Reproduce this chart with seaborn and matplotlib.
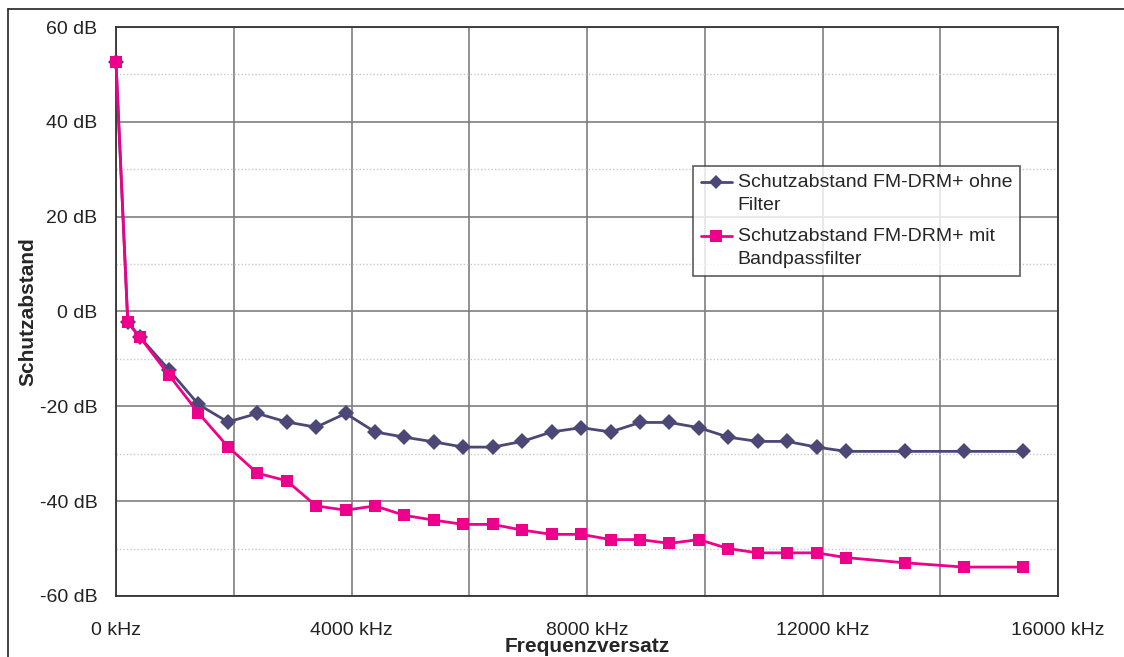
import numpy as np
import pandas as pd
import matplotlib
matplotlib.use("Agg")
import matplotlib.pyplot as plt
from matplotlib.ticker import MultipleLocator, FuncFormatter
from matplotlib.lines import Line2D
from matplotlib.legend_handler import HandlerLine2D
import seaborn as sns

# --------------------------
# DATA
# --------------------------
freq_khz = [0, 200, 400, 900, 1400, 1900, 2400, 2900, 3400, 3900,
            4400, 4900, 5400, 5900, 6400, 6900, 7400, 7900, 8400, 8900,
            9400, 9900, 10400, 10900, 11400, 11900, 12400, 13400, 14400, 15400]
ohne_filter = [52.6, -2.3, -5.3, -12.3, -19.6, -23.3, -21.5, -23.3, -24.4, -21.5,
               -25.4, -26.5, -27.5, -28.6, -28.6, -27.4, -25.4, -24.5, -25.4, -23.4,
               -23.4, -24.5, -26.5, -27.4, -27.4, -28.6, -29.5, -29.5, -29.5, -29.5]
mit_bandpass = [52.6, -2.3, -5.3, -13.4, -21.4, -28.5, -34.1, -35.7, -41.0, -41.9,
                -41.0, -43.0, -44.0, -44.9, -44.9, -46.1, -47.0, -47.0, -48.1, -48.1,
                -48.9, -48.1, -50.0, -50.9, -50.9, -50.9, -51.9, -53.0, -53.9, -53.9]
series_names = ["Schutzabstand FM-DRM+ ohne\nFilter",
                "Schutzabstand FM-DRM+ mit\nBandpassfilter"]

df = pd.concat([
    pd.DataFrame({"freq": freq_khz, "value": ohne_filter, "series": series_names[0]}),
    pd.DataFrame({"freq": freq_khz, "value": mit_bandpass, "series": series_names[1]}),
])

# --------------------------
# STYLE
# --------------------------
sns.set_style("white")
plt.rcParams["font.family"] = ["Liberation Sans", "DejaVu Sans"]

purple = "#4b4878"
pink = "#ec008c"

fig = plt.figure(figsize=(11.24, 6.57), dpi=100)
ax = fig.add_axes([116 / 1124, 1 - 596 / 657, (1058 - 116) / 1124, (596 - 27) / 657])

sns.lineplot(
    data=df, x="freq", y="value", hue="series", style="series",
    palette={series_names[0]: purple, series_names[1]: pink},
    markers={series_names[0]: "D", series_names[1]: "s"},
    dashes=False, linewidth=2.0, markeredgewidth=0,
    ax=ax, clip_on=False, zorder=5,
)
ax.lines[0].set_markersize(8)
ax.lines[1].set_markersize(8.5)

# --------------------------
# AXES
# --------------------------
ax.set_xlim(0, 16000)
ax.set_ylim(-60, 60)
ax.xaxis.set_major_locator(MultipleLocator(4000))
ax.xaxis.set_minor_locator(MultipleLocator(2000))
ax.yaxis.set_major_locator(MultipleLocator(20))
ax.yaxis.set_minor_locator(MultipleLocator(10))
ax.xaxis.set_major_formatter(FuncFormatter(lambda v, p: f"{v:.0f} kHz"))
ax.yaxis.set_major_formatter(FuncFormatter(lambda v, p: f"{v:.0f} dB"))

ax.grid(which="major", axis="both", color="#7f7f7f", linewidth=1.2)
ax.grid(which="minor", axis="x", color="#7f7f7f", linewidth=1.2)
ax.grid(which="minor", axis="y", color="#c8c8c8", linewidth=1.0, linestyle=(0, (1, 1.5)))
ax.set_axisbelow(True)

ax.tick_params(axis="both", which="major", direction="out", length=6, width=1,
               color="#333333", labelsize=14, labelcolor="#222222")
ax.tick_params(axis="x", which="major", pad=12.5)
ax.tick_params(axis="y", which="major", pad=7.5)
ax.tick_params(which="minor", length=0)

for sp in ax.spines.values():
    sp.set_color("#333333")
    sp.set_linewidth(1.3)

ax.set_xlabel("Frequenzversatz", fontsize=15, fontweight="bold")
ax.set_ylabel("Schutzabstand", fontsize=15, fontweight="bold")
ax.xaxis.set_label_coords(0.5, (596 - 637) / 569)
ax.yaxis.set_label_coords((37 - 116) / 942, 0.5)


# --------------------------
# LEGEND (handle sits on the first text line)
# --------------------------
class TopLineHandler(HandlerLine2D):
    def __init__(self, shift, **kw):
        super().__init__(**kw)
        self.shift = shift

    def create_artists(self, legend, orig_handle, xdescent, ydescent,
                       width, height, fontsize, trans):
        return super().create_artists(legend, orig_handle, xdescent,
                                      ydescent - 2 * self.shift,
                                      width, height, fontsize, trans)


handles = [
    Line2D([], [], color=purple, marker="D", markersize=7, linewidth=2, markeredgewidth=0),
    Line2D([], [], color=pink, marker="s", markersize=8, linewidth=2, markeredgewidth=0),
]
hmap = {h: TopLineHandler(8.5) for h in handles}
leg = ax.legend(handles, series_names, handler_map=hmap, loc="upper left",
                bbox_to_anchor=((693 - 116) / 942, (596 - 166) / 569),
                borderaxespad=0, fontsize=14, frameon=True, fancybox=False,
                handlelength=1.6, handletextpad=0.3, borderpad=0.4,
                labelspacing=0.7)
for t in leg.get_texts():
    t.set_linespacing(1.5)
leg.get_frame().set_edgecolor("#333333")
leg.get_frame().set_linewidth(1.2)
leg.set_zorder(10)

# outer frame (left and top border of the original figure box)
fig.add_artist(Line2D([8 / 1124, 8 / 1124], [0, 1 - 9 / 657], color="#222222", linewidth=1.2))
fig.add_artist(Line2D([8 / 1124, 1], [1 - 9 / 657, 1 - 9 / 657], color="#222222", linewidth=1.2))

fig.savefig("out.png", dpi=100)
